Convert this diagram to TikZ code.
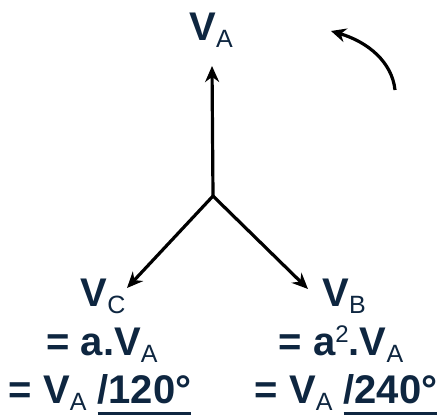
\documentclass[tikz,border=0pt]{standalone}
\usepackage{fontspec}
\setmainfont{Liberation Sans}
\usetikzlibrary{arrows.meta}
\definecolor{navy}{RGB}{14,38,64}
\newcommand\lsub[1]{\raisebox{-7pt}{\fontsize{25}{25}\mdseries\selectfont #1}}
\newcommand\lsup[1]{\raisebox{13pt}{\fontsize{24}{24}\mdseries\selectfont #1}}
\newcommand\angul[1]{\setbox0\hbox{#1}\rlap{\rule[-12pt]{\wd0}{3pt}}\box0}
\tikzset{
  lbl/.style={inner sep=0pt, anchor=base, text=navy, font=\fontsize{40}{44}\bfseries\selectfont},
  vec/.style={line width=3.2pt, -{Stealth[length=16pt,width=14pt]}},
}
\begin{document}
\begin{tikzpicture}[x=1pt,y=-1pt]
\useasboundingbox (0,0) rectangle (441,417);
\coordinate (O) at (213,196);
\coordinate (tA) at (212,66);
\coordinate (tC) at (127,288);
\coordinate (tB) at (308,289);
\draw[vec] (O) -- (tA);
\draw[vec] (O) -- (tC);
\draw[vec] (O) -- (tB);
\coordinate (rs) at (395,90);
\coordinate (re) at (331,31);
\draw[line width=3.2pt, -{Stealth[length=15pt,width=14pt]}] (rs) .. controls (392,62) and (368,42) .. (re);
\node[lbl] (VA) at (211,41) {V\lsub{A}};
\node[lbl] (VC1) at (103,306) {V\lsub{C}};
\node[lbl] (VC2) at (102,355) {= a.V\lsub{A}};
\node[lbl] (VC3) at (100,403) {= V\lsub{A} \angul{/120°}};
\node[lbl] (VB1) at (344,306) {V\lsub{B}};
\node[lbl] (VB2) at (341,355) {= a\lsup{2}.V\lsub{A}};
\node[lbl] (VB3) at (346,403) {= V\lsub{A} \angul{/240°}};
\end{tikzpicture}
\end{document}
